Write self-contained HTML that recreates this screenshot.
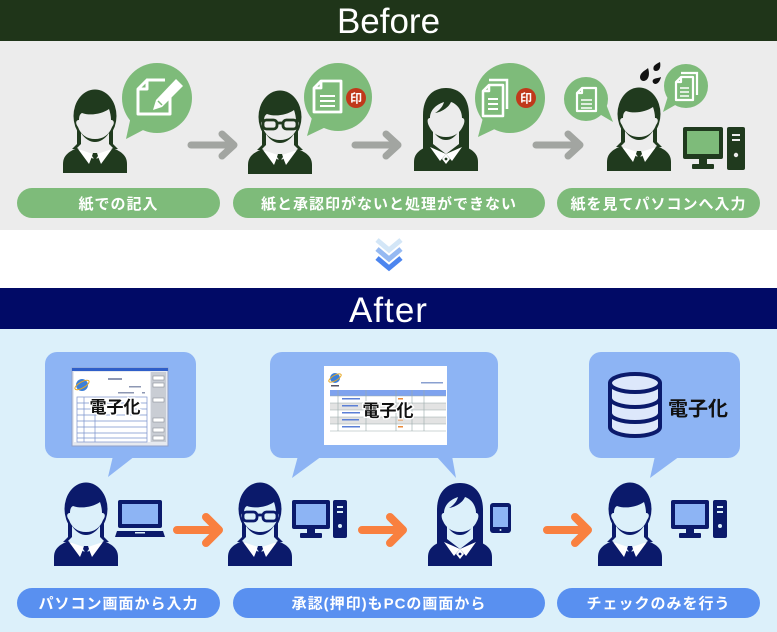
<!DOCTYPE html>
<html><head><meta charset="utf-8">
<style>
html,body{margin:0;padding:0;background:#fff;}
svg{display:block;}
text{font-family:"Liberation Sans","Noto Sans CJK JP",sans-serif;}
.pt{font-size:15px;font-weight:bold;fill:#fff;letter-spacing:1px;}
</style></head><body>
<svg width="777" height="632" viewBox="0 0 777 632" xmlns="http://www.w3.org/2000/svg">
<defs>
<symbol id="man" viewBox="0 0 66 84">
 <path fill="currentColor" d="M1,84 L1,75 C1,65 9,61 21,57 L45,57 C57,61 65,65 65,75 L65,84 Z"/>
 <path fill="currentColor" d="M15,34 H51 V55 L56,60 H10 L15,55 Z"/>
 <ellipse fill="currentColor" cx="33" cy="27" rx="21.5" ry="26.5"/>
 <path fill="var(--bg)" d="M17,31 C17,27 18,25 20,24 C28,27 40,25 47,20 C48,23 49,27 49,31 C52,31 53,34 50,38 C47,46 41,50 33,50 C25,50 19,46 16,38 C13,34 14,31 17,31 Z"/>
 <path fill="var(--bg)" d="M19,44 C23,50 28,53 33,53 C38,53 43,50 47,44 L47,55 L51,59 L33,71 L15,59 L19,55 Z"/>
 <path fill="#fff" d="M16,60 L31,65 L27,75 Z M50,60 L35,65 L39,75 Z"/>
 <path fill="currentColor" d="M31,64 H35 L36,67 L34.5,69 L37,80 L33,84 L29,80 L31.5,69 L30,67 Z"/>
</symbol>
<symbol id="woman" viewBox="0 0 66 84">
 <path fill="currentColor" d="M1,84 L1,75 C1,65 9,61 21,57 L45,57 C57,61 65,65 65,75 L65,84 Z"/>
 <path fill="currentColor" d="M10,62 L10,28 C10,10 20,1 33,1 C46,1 56,10 56,28 L56,62 Z"/>
 <path fill="var(--bg)" d="M17,31 C17,24 22,18 31,15 C30,19 27,23 22,26 C29,25 36,20 38,15 C44,17 49,23 49,31 C52,31 52,35 50,39 C47,46 41,50 33,50 C25,50 19,46 16,39 C14,35 14,31 17,31 Z"/>
 <path fill="var(--bg)" d="M20,44 C24,50 28,53 33,53 C38,53 42,50 46,44 L46,57 L33,67 L20,57 Z"/>
 <path fill="#fff" d="M17,60 L33,67 L27,74 Z M49,60 L33,67 L39,74 Z"/>
 <path fill="#fff" d="M33,67 L37,72 L33,77 L29,72 Z"/>
 <circle cx="33" cy="72" r="1.4" fill="currentColor"/>
</symbol>
<symbol id="glasses" viewBox="0 0 66 84">
 <g fill="var(--bg)" stroke="currentColor" stroke-width="2.8">
  <rect x="16" y="30" width="14" height="9" rx="3.5"/>
  <rect x="36" y="30" width="14" height="9" rx="3.5"/>
 </g>
 <path d="M30,33 H36" stroke="currentColor" stroke-width="2.8"/>
</symbol>
</defs>

<!-- BEFORE -->
<rect x="0" y="0" width="777" height="41" fill="#1f3519"/>
<text x="388.5" y="33" font-size="35" fill="#fff" text-anchor="middle">Before</text>
<rect x="0" y="41" width="777" height="189" fill="#ececec"/>

<!-- bubbles before -->
<g fill="#7ebb7a">
 <circle cx="157" cy="98" r="35"/><polygon points="131,116 147,128 126,139"/>
 <circle cx="338" cy="97" r="34"/><polygon points="313,114 328,126 307,136"/>
 <circle cx="510" cy="98" r="35"/><polygon points="484,114 499,127 478,137"/>
 <circle cx="586" cy="99" r="22"/><polygon points="596,112 606,104 613,122"/>
 <circle cx="686" cy="86" r="22"/><polygon points="668,96 677,104 663,112"/>
</g>
<!-- bubble1 doc + pencil -->
<path d="M147,80 H165 M170,97 V114 H138 V89 L147,80 V89 H138" fill="none" stroke="#fff" stroke-width="3" stroke-linejoin="round"/>
<path d="M176,79 L183,86 L162,107 L153,110 L156,100 Z" fill="#fff"/>
<path d="M158,101 L162,105" stroke="#7ebb7a" stroke-width="1.5"/>
<!-- bubble2 doc + stamp -->
<path d="M321,81 H341 V112 H314 V88 Z M321,81 V88 H314" fill="none" stroke="#fff" stroke-width="2.8" stroke-linejoin="round"/>
<path d="M320,96 H335 M320,101 H335 M320,106 H335" stroke="#fff" stroke-width="2"/>
<circle cx="356" cy="98" r="10" fill="#c0391b"/>
<text x="356" y="102.5" font-size="12" font-weight="bold" fill="#fff" text-anchor="middle">印</text>
<!-- bubble3 doc stack + stamp -->
<path d="M489,80 H507 V109" fill="none" stroke="#fff" stroke-width="2.5"/>
<path d="M489,85 H503 V116 H483 V91 Z M489,85 V91 H483" fill="none" stroke="#fff" stroke-width="2.5" stroke-linejoin="round"/>
<path d="M488,99 H498 M488,104 H498 M488,109 H498" stroke="#fff" stroke-width="2"/>
<circle cx="526" cy="98" r="10" fill="#c0391b"/>
<text x="526" y="102.5" font-size="12" font-weight="bold" fill="#fff" text-anchor="middle">印</text>
<!-- small bubble docs -->
<path d="M582,88 H596 V111 H577 V93 Z M582,88 V93 H577" fill="none" stroke="#fff" stroke-width="2.2" stroke-linejoin="round"/>
<path d="M581,100 H592 M581,104 H592 M581,108 H592" stroke="#fff" stroke-width="1.6"/>
<path d="M681,73 H697 V95" fill="none" stroke="#fff" stroke-width="2.2"/>
<path d="M681,77 H693 V100 H676 V82 Z M681,77 V82 H676" fill="none" stroke="#fff" stroke-width="2.2" stroke-linejoin="round"/>
<path d="M680,88 H689 M680,92 H689 M680,96 H689" stroke="#fff" stroke-width="1.6"/>
<!-- sweat -->
<g fill="#111">
 <path d="M648,68 C650,74 649,80 644,81 C640,81 639,77 641,74 C643,71 646,70 648,68 Z"/>
 <path d="M660,62 C661,66 660,71 656,71 C653,71 653,68 654,66 C656,64 658,63 660,62 Z"/>
 <path d="M661,77 C660,81 658,84 655,84 C652,83 652,80 654,79 C656,78 659,78 661,77 Z"/>
</g>

<!-- persons before -->
<g style="color:#203a1e;--bg:#ececec">
 <use href="#man" x="62" y="89" width="66" height="84"/>
 <use href="#man" x="247" y="90" width="66" height="84"/>
 <use href="#glasses" x="247" y="90" width="66" height="84"/>
 <use href="#woman" x="413" y="87" width="66" height="84"/>
 <use href="#man" x="606" y="87" width="66" height="84"/>
</g>
<!-- computer before -->
<g fill="#203a1e">
 <rect x="683" y="127" width="40" height="32" rx="2"/>
 <rect x="699" y="158" width="8" height="7"/>
 <rect x="692" y="164" width="22" height="5" rx="1"/>
 <rect x="727" y="127" width="18" height="43" rx="2"/>
</g>
<rect x="687" y="131" width="32" height="23" fill="#7ebb7a"/>
<rect x="732" y="134" width="8" height="2" fill="#ececec"/>
<rect x="732" y="139" width="8" height="2" fill="#ececec"/>
<circle cx="736" cy="155" r="2.2" fill="#ececec"/>

<!-- gray arrows -->
<g fill="none" stroke="#a2a5a1" stroke-width="7" stroke-linecap="round" stroke-linejoin="round">
 <path d="M191,145 H233 M222,134 L234,145 L222,156"/>
 <path d="M355,145 H397 M386,134 L398,145 L386,156"/>
 <path d="M536,145 H579 M568,134 L580,145 L568,156"/>
</g>

<!-- green pills -->
<g fill="#7ebb7a">
 <rect x="17" y="188" width="203" height="30" rx="15"/>
 <rect x="233" y="188" width="312" height="30" rx="15"/>
 <rect x="557" y="188" width="203" height="30" rx="15"/>
</g>
<text class="pt" x="118.5" y="209" text-anchor="middle">紙での記入</text>
<text class="pt" x="389" y="209" text-anchor="middle">紙と承認印がないと処理ができない</text>
<text class="pt" x="658.5" y="209" text-anchor="middle">紙を見てパソコンへ入力</text>

<!-- white gap with chevrons -->
<rect x="0" y="230" width="777" height="58" fill="#fff"/>
<g fill="none" stroke-width="5" stroke-linecap="butt" stroke-linejoin="miter">
 <path d="M377,240 L389,250 L401,240" stroke="#d3e6f7"/>
 <path d="M377,249 L389,259 L401,249" stroke="#95b9f2"/>
 <path d="M377,258 L389,268 L401,258" stroke="#4c85ef"/>
</g>

<!-- AFTER -->
<rect x="0" y="288" width="777" height="41" fill="#010a66"/>
<text x="388.5" y="322" font-size="35" fill="#fff" text-anchor="middle" letter-spacing="1">After</text>
<rect x="0" y="329" width="777" height="303" fill="#dcf0fa"/>

<!-- after bubbles -->
<g fill="#8db4f4">
 <rect x="45" y="352" width="151" height="106" rx="12"/>
 <polygon points="113,456 135,456 108,477"/>
 <rect x="270" y="352" width="228" height="106" rx="12"/>
 <polygon points="298,456 322,456 292,478"/>
 <polygon points="436,456 452,456 456,478"/>
 <rect x="589" y="352" width="151" height="106" rx="12"/>
 <polygon points="655,456 680,456 650,478"/>
</g>

<!-- screenshot 1 -->
<rect x="72" y="368" width="96" height="78" fill="#e6e9ef" stroke="#8fa0c8" stroke-width="1"/>
<rect x="72" y="368" width="96" height="3" fill="#2f5fc9"/>
<rect x="74" y="372" width="76" height="70" fill="#fff"/>
<rect x="151" y="372" width="15" height="70" fill="#c9cdd4"/>
<g fill="#fff" stroke="#8a8f98" stroke-width="0.6">
 <rect x="153" y="376" width="11" height="4"/><rect x="153" y="383" width="11" height="4"/>
 <rect x="153" y="398" width="11" height="4"/><rect x="153" y="418" width="11" height="4"/>
 <rect x="153" y="428" width="11" height="4"/><rect x="153" y="436" width="11" height="4"/>
</g>
<circle cx="82" cy="385" r="6" fill="#3b7fd9"/>
<ellipse cx="82" cy="385" rx="8" ry="3" fill="none" stroke="#e7a824" stroke-width="1" transform="rotate(-30 82 385)"/>
<g fill="#8d97b3">
 <rect x="108" y="378" width="14" height="2"/><rect x="129" y="386" width="12" height="1.5"/>
 <rect x="118" y="392" width="16" height="1.5"/><rect x="142" y="392" width="3" height="1.5"/>
</g>
<g fill="none" stroke="#7a92cc" stroke-width="0.7">
 <rect x="77" y="397" width="70" height="45"/>
 <path d="M77,403 H147 M77,409 H147 M77,415 H147 M77,421 H147 M77,427 H147 M77,433 H147 M77,438 H147 M84,397 V442 M95,397 V442"/>
</g>
<text x="115" y="413" font-size="17" font-weight="bold" fill="#111" text-anchor="middle" stroke="#fff" stroke-width="3" paint-order="stroke">電子化</text>

<!-- screenshot 2 -->
<rect x="324" y="366" width="123" height="79" fill="#fff"/>
<circle cx="335" cy="378" r="5" fill="#3b7fd9"/>
<ellipse cx="335" cy="378" rx="7" ry="2.6" fill="none" stroke="#e7a824" stroke-width="1" transform="rotate(-30 335 378)"/>
<rect x="331" y="385" width="8" height="1.5" fill="#556"/>
<rect x="421" y="382" width="22" height="1.5" fill="#8aa0d0"/>
<rect x="330" y="390" width="116" height="6" fill="#7ea2ee"/>
<rect x="330" y="403" width="116" height="7" fill="#e3e3e3"/>
<rect x="330" y="417" width="116" height="7" fill="#e3e3e3"/>
<g fill="none" stroke="#9aa" stroke-width="0.6">
 <path d="M330,396 H446 M330,403 H446 M330,410 H446 M330,417 H446 M330,424 H446 M330,431 H446"/>
 <path d="M338,390 V431 M366,390 V431 M396,390 V431 M412,390 V431 M424,390 V431"/>
</g>
<g fill="#5b7fd6">
 <rect x="342" y="398" width="18" height="1.5"/><rect x="342" y="405" width="16" height="1.5"/>
 <rect x="342" y="412" width="18" height="1.5"/><rect x="342" y="419" width="17" height="1.5"/>
 <rect x="342" y="426" width="18" height="1.5"/>
</g>
<g fill="#e98a3a">
 <rect x="398" y="398" width="5" height="1.5"/><rect x="398" y="412" width="5" height="1.5"/>
 <rect x="398" y="419" width="5" height="1.5"/><rect x="398" y="426" width="5" height="1.5"/>
</g>
<text x="388" y="416.5" font-size="17" font-weight="bold" fill="#111" text-anchor="middle" stroke="#fff" stroke-width="3" paint-order="stroke">電子化</text>

<!-- database -->
<g stroke="#0b1a6b" stroke-width="4" fill="#dde8fb">
 <path d="M610,383 V427 A25,9 0 0 0 660,427 V383"/>
 <ellipse cx="635" cy="383" rx="25" ry="9"/>
 <path d="M610,398 A25,9 0 0 0 660,398 M610,413 A25,9 0 0 0 660,413" fill="none"/>
</g>
<text x="698" y="415.5" font-size="20" font-weight="bold" fill="#111" text-anchor="middle">電子化</text>

<!-- persons after -->
<g style="color:#0b1a6b;--bg:#dcf0fa">
 <use href="#man" x="53" y="482" width="66" height="84"/>
 <use href="#man" x="227" y="482" width="66" height="84"/>
 <use href="#glasses" x="227" y="482" width="66" height="84"/>
 <use href="#woman" x="427" y="482" width="66" height="84"/>
 <use href="#man" x="597" y="482" width="66" height="84"/>
</g>

<!-- laptop -->
<rect x="118" y="500" width="44" height="28" rx="2" fill="#0b1a6b"/>
<rect x="122" y="504" width="36" height="20" fill="#8db4f4"/>
<path d="M117,531 H163 L165,537 H115 Z" fill="#0b1a6b"/>
<rect x="135" y="532" width="10" height="1.5" fill="#dcf0fa"/>

<!-- desktop p2 -->
<g fill="#0b1a6b">
 <rect x="292" y="500" width="38" height="29" rx="2"/>
 <rect x="307" y="528" width="8" height="6"/>
 <rect x="300" y="533" width="22" height="5" rx="1"/>
 <rect x="333" y="500" width="14" height="38" rx="2"/>
</g>
<rect x="296" y="504" width="30" height="21" fill="#8db4f4"/>
<rect x="337" y="506" width="6" height="2" fill="#dcf0fa"/>
<rect x="337" y="511" width="6" height="2" fill="#dcf0fa"/>
<circle cx="340" cy="526" r="2" fill="#dcf0fa"/>

<!-- tablet -->
<rect x="490" y="503" width="21" height="30" rx="3" fill="#0b1a6b"/>
<rect x="493" y="507" width="15" height="20" fill="#8db4f4"/>
<circle cx="500.5" cy="530" r="1" fill="#dcf0fa"/>

<!-- desktop p4 -->
<g fill="#0b1a6b">
 <rect x="671" y="500" width="38" height="29" rx="2"/>
 <rect x="686" y="528" width="8" height="6"/>
 <rect x="679" y="533" width="22" height="5" rx="1"/>
 <rect x="713" y="500" width="14" height="38" rx="2"/>
</g>
<rect x="675" y="504" width="30" height="21" fill="#8db4f4"/>
<rect x="717" y="506" width="6" height="2" fill="#dcf0fa"/>
<rect x="717" y="511" width="6" height="2" fill="#dcf0fa"/>
<circle cx="720" cy="526" r="2" fill="#dcf0fa"/>

<!-- orange arrows -->
<g fill="none" stroke="#f9803f" stroke-width="8" stroke-linecap="round" stroke-linejoin="round">
 <path d="M177,530 H218 M206,517 L219,530 L206,543"/>
 <path d="M362,530 H402 M390,517 L403,530 L390,543"/>
 <path d="M547,530 H587 M575,517 L588,530 L575,543"/>
</g>

<!-- blue pills -->
<g fill="#5990f0">
 <rect x="17" y="588" width="203" height="30" rx="15"/>
 <rect x="233" y="588" width="312" height="30" rx="15"/>
 <rect x="557" y="588" width="203" height="30" rx="15"/>
</g>
<text class="pt" x="118.5" y="608.5" text-anchor="middle">パソコン画面から入力</text>
<text class="pt" x="389" y="608.5" text-anchor="middle">承認(押印)もPCの画面から</text>
<text class="pt" x="658.5" y="608.5" text-anchor="middle">チェックのみを行う</text>
</svg>
</body></html>
